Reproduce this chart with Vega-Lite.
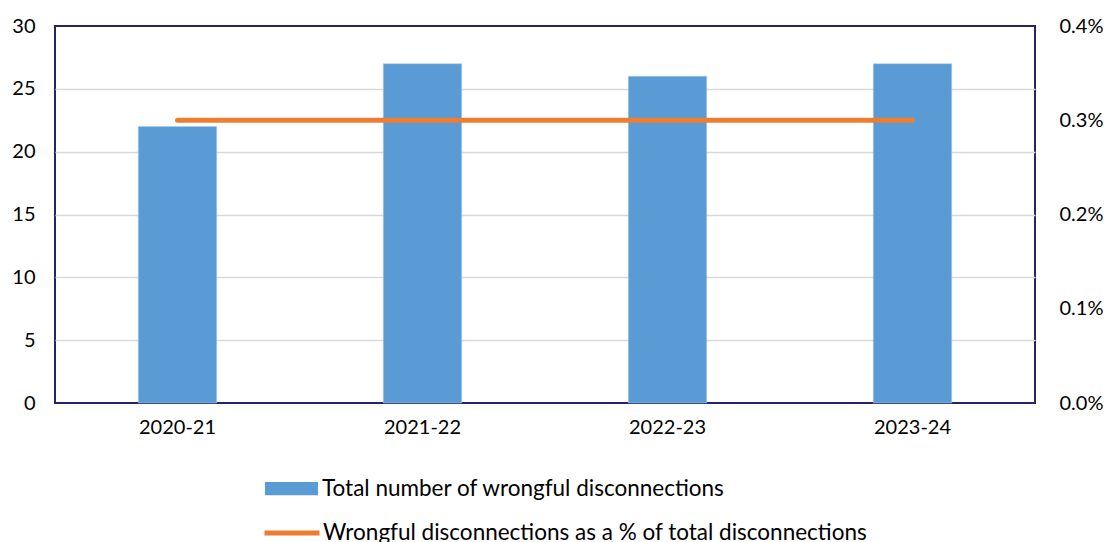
{
  "$schema": "https://vega.github.io/schema/vega-lite/v6.json",
  "autosize": {"type": "none"},
  "width": 980,
  "height": 377,
  "padding": {"left": 55, "top": 26, "right": 79, "bottom": 139},
  "background": "white",
  "config": {
    "font": "Lato",
    "view": {"stroke": "#262466", "strokeWidth": 2},
    "axis": {"labelFont": "Lato", "labelFontSize": 20, "labelColor": "#000000", "ticks": false, "domain": false, "title": null},
    "legend": {"labelFont": "Lato", "labelFontSize": 22.5, "labelColor": "#000000", "padding": 0, "title": null, "labelLimit": 900}
  },
  "data": {
    "values": [
      {"year": "2020-21", "total": 22, "pct": 0.003},
      {"year": "2021-22", "total": 27, "pct": 0.003},
      {"year": "2022-23", "total": 26, "pct": 0.003},
      {"year": "2023-24", "total": 27, "pct": 0.003}
    ]
  },
  "encoding": {
    "x": {
      "field": "year",
      "type": "nominal",
      "scale": {"paddingInner": 0.68, "paddingOuter": 0.34},
      "axis": {"labelAngle": 0, "labelPadding": 14, "grid": false}
    }
  },
  "layer": [
    {
      "mark": {"type": "bar", "stroke": "#A9CBEB", "strokeWidth": 0.5},
      "encoding": {
        "y": {
          "field": "total",
          "type": "quantitative",
          "scale": {"domain": [0, 30], "nice": false},
          "axis": {
            "orient": "left",
            "values": [0, 5, 10, 15, 20, 25, 30],
            "grid": true,
            "gridColor": {"condition": {"test": "datum.value == 30 || datum.value == 0", "value": "transparent"}, "value": "#D9D9D9"},
            "gridWidth": 1.5,
            "labelPadding": 20
          }
        },
        "fill": {
          "datum": "Total number of wrongful disconnections",
          "type": "nominal",
          "scale": {"range": ["#5B9BD5"]},
          "legend": {"orient": "none", "legendX": 210, "legendY": 436, "symbolType": "M-1,-0.25H1V0.25H-1Z", "symbolSize": 2809, "symbolStrokeWidth": 0, "labelOffset": 4}
        }
      }
    },
    {
      "mark": {"type": "line", "strokeWidth": 5, "strokeCap": "round"},
      "encoding": {
        "y": {
          "field": "pct",
          "type": "quantitative",
          "scale": {"domain": [0, 0.004], "nice": false},
          "axis": {"orient": "right", "values": [0, 0.001, 0.002, 0.003, 0.004], "format": ".1%", "grid": false, "labelPadding": 24}
        },
        "stroke": {
          "datum": "Wrongful disconnections as a % of total disconnections",
          "type": "nominal",
          "scale": {"range": ["#ED7D31"]},
          "legend": {"orient": "none", "legendX": 207, "legendY": 477, "symbolType": "stroke", "symbolSize": 3025, "symbolStrokeWidth": 5, "labelOffset": 1}
        }
      }
    }
  ],
  "resolve": {"scale": {"y": "independent"}}
}
